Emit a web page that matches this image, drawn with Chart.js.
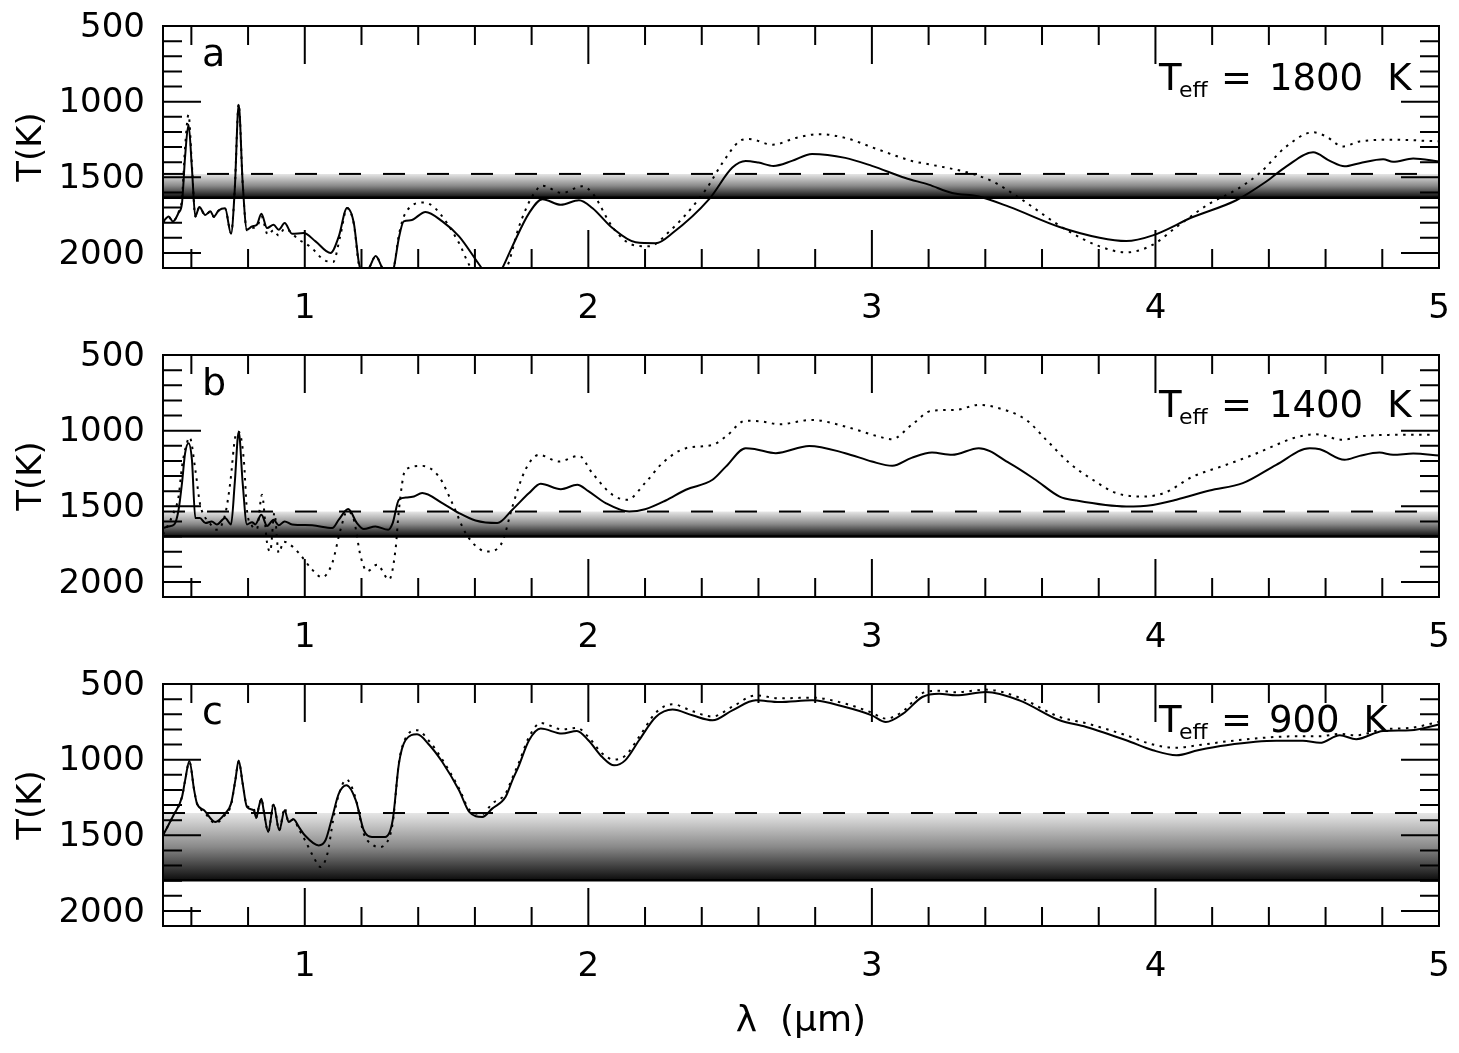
<!DOCTYPE html>
<html><head><meta charset="utf-8">
<script src="https://cdn.jsdelivr.net/npm/chart.js@4.4.0/dist/chart.umd.min.js"></script>
<style>
html,body{margin:0;padding:0;background:#fff;}
#wrap{position:relative;width:1459px;height:1053px;overflow:hidden;background:#fff;}
canvas{position:absolute;left:0;}
</style></head><body>
<div id="wrap">
<canvas id="ca" width="1459" height="329" style="top:0px"></canvas>
<canvas id="cb" width="1459" height="329" style="top:329px"></canvas>
<canvas id="cc" width="1459" height="395" style="top:658px"></canvas>
</div>
<script>
// ---------- tick labels ----------
const X_TICKS = [1, 2, 3, 4, 5];
const Y_TICKS = [500, 1000, 1500, 2000];
const BAND_X = [0.5, 5];

// ---------- panel a (Teff = 1800 K) ----------
const A_SOLID_X = [0.50,0.52,0.535,0.555,0.567,0.578,0.590,0.602,0.614,0.628,0.649,0.667,0.679,0.696,0.719,0.740,0.753,0.767,0.781,0.796,0.814,0.831,0.847,0.867,0.890,0.908,0.929,0.955,0.996,1.038,1.091,1.120,1.149,1.173,1.191,1.205,1.228,1.250,1.272,1.290,1.300,1.314,1.332,1.349,1.373,1.426,1.485,1.544,1.620,1.650,1.680,1.697,1.732,1.791,1.838,1.903,1.967,2.014,2.085,2.167,2.238,2.297,2.426,2.508,2.555,2.600,2.653,2.718,2.789,2.906,3.000,3.118,3.200,3.283,3.377,3.485,3.662,3.803,3.897,3.991,4.132,4.285,4.391,4.462,4.556,4.615,4.667,4.720,4.803,4.838,4.909,5.000];
const A_SOLID_T = [1795,1760,1792,1735,1671,1362,1152,1441,1760,1697,1749,1725,1760,1720,1705,1874,1583,1020,1538,1847,1825,1814,1741,1836,1814,1847,1803,1874,1869,1924,2001,1891,1703,1803,2068,2140,2095,2021,2095,2160,2170,2100,1900,1792,1785,1729,1792,1891,2090,2160,2150,2100,1957,1737,1645,1682,1652,1703,1836,1930,1936,1869,1645,1436,1392,1403,1425,1392,1346,1372,1425,1505,1549,1604,1627,1696,1829,1900,1922,1884,1763,1652,1528,1428,1335,1392,1428,1407,1381,1398,1376,1396];
const A_DOT_X = [0.50,0.52,0.535,0.555,0.567,0.578,0.590,0.602,0.614,0.628,0.649,0.667,0.679,0.696,0.719,0.740,0.753,0.767,0.781,0.796,0.814,0.831,0.847,0.870,0.890,0.908,0.929,0.979,1.020,1.067,1.100,1.125,1.149,1.173,1.191,1.205,1.228,1.250,1.272,1.290,1.300,1.314,1.332,1.355,1.420,1.460,1.544,1.580,1.620,1.670,1.714,1.755,1.802,1.838,1.907,1.978,2.014,2.085,2.155,2.214,2.280,2.414,2.473,2.532,2.567,2.650,2.732,2.814,2.906,3.024,3.141,3.200,3.344,3.426,3.520,3.685,3.803,3.897,3.991,4.074,4.191,4.285,4.368,4.462,4.556,4.600,4.661,4.720,4.838,5.000];
const A_DOT_T = [1800,1765,1790,1730,1640,1300,1086,1420,1760,1700,1750,1728,1762,1722,1708,1870,1580,1015,1540,1850,1835,1830,1760,1880,1850,1885,1840,1913,1960,2046,2060,1890,1703,1810,2080,2140,2095,2021,2095,2160,2170,2100,1880,1737,1667,1705,1935,2080,2170,2180,2090,1829,1627,1556,1604,1560,1604,1829,1946,1957,1869,1583,1405,1263,1247,1285,1240,1215,1240,1318,1392,1414,1472,1528,1637,1847,1957,1997,1946,1829,1674,1583,1472,1296,1203,1228,1296,1263,1252,1263];
const A_BAND = [1478, 1635];

// ---------- panel b (Teff = 1400 K) ----------
const B_SOLID_X = [0.50,0.52,0.54,0.555,0.567,0.578,0.590,0.602,0.614,0.630,0.650,0.672,0.690,0.719,0.740,0.753,0.767,0.781,0.796,0.814,0.825,0.847,0.867,0.890,0.908,0.929,0.955,1.026,1.097,1.120,1.153,1.184,1.208,1.249,1.294,1.310,1.332,1.361,1.385,1.414,1.485,1.544,1.602,1.679,1.732,1.791,1.832,1.903,1.961,2.000,2.061,2.144,2.200,2.273,2.344,2.438,2.485,2.555,2.590,2.661,2.779,2.906,3.000,3.072,3.140,3.212,3.283,3.377,3.485,3.577,3.662,3.720,3.897,3.991,4.074,4.191,4.308,4.426,4.544,4.580,4.667,4.720,4.790,4.838,4.909,5.000];
const B_SOLID_T = [1644,1634,1620,1523,1347,1149,1083,1193,1578,1578,1611,1600,1620,1578,1620,1347,1007,1347,1620,1605,1620,1556,1630,1589,1626,1600,1620,1626,1644,1589,1519,1611,1651,1634,1655,1611,1457,1442,1435,1413,1479,1545,1594,1611,1523,1413,1352,1387,1358,1400,1479,1535,1520,1462,1391,1325,1238,1116,1123,1149,1101,1149,1204,1233,1180,1145,1160,1116,1215,1325,1436,1462,1502,1491,1457,1396,1347,1226,1116,1123,1193,1167,1145,1160,1151,1165];
const B_DOT_X = [0.50,0.537,0.555,0.567,0.584,0.594,0.614,0.630,0.640,0.660,0.690,0.719,0.737,0.755,0.767,0.785,0.796,0.814,0.831,0.849,0.867,0.878,0.893,0.908,0.926,0.940,0.979,1.026,1.061,1.097,1.126,1.149,1.173,1.197,1.220,1.255,1.297,1.320,1.332,1.355,1.414,1.473,1.520,1.567,1.620,1.649,1.685,1.700,1.732,1.778,1.826,1.896,1.967,2.014,2.085,2.137,2.200,2.261,2.344,2.438,2.485,2.555,2.614,2.673,2.789,2.906,3.024,3.070,3.140,3.212,3.295,3.377,3.426,3.544,3.615,3.697,3.779,3.862,3.956,4.030,4.132,4.250,4.344,4.426,4.485,4.567,4.661,4.720,4.838,4.980];
const B_DOT_T = [1688,1545,1436,1238,1083,1044,1259,1479,1545,1600,1655,1556,1347,1040,1007,1193,1523,1630,1651,1424,1743,1799,1545,1809,1734,1743,1809,1919,1970,1875,1655,1535,1589,1832,1930,1886,1985,1787,1523,1259,1233,1304,1479,1677,1787,1799,1770,1720,1504,1259,1160,1204,1167,1281,1424,1457,1347,1215,1116,1094,1039,934,940,958,929,973,1039,1057,962,868,863,830,841,929,1061,1215,1325,1413,1436,1413,1304,1226,1160,1094,1050,1024,1061,1039,1028,1028];
const B_BAND = [1535, 1700];

// ---------- panel c (Teff = 900 K) ----------
const C_SOLID_X = [0.50,0.537,0.567,0.578,0.593,0.610,0.620,0.645,0.684,0.719,0.740,0.755,0.767,0.781,0.796,0.820,0.829,0.838,0.847,0.855,0.871,0.890,0.910,0.929,0.943,0.960,0.979,1.000,1.049,1.073,1.097,1.120,1.147,1.180,1.208,1.237,1.284,1.310,1.332,1.355,1.396,1.440,1.485,1.544,1.580,1.626,1.661,1.708,1.732,1.753,1.791,1.832,1.907,1.960,2.000,2.049,2.091,2.130,2.179,2.238,2.297,2.367,2.438,2.508,2.591,2.673,2.789,2.906,3.000,3.049,3.110,3.178,3.237,3.296,3.402,3.520,3.662,3.756,3.897,3.991,4.074,4.150,4.250,4.426,4.520,4.580,4.650,4.708,4.803,4.900,5.000];
const C_SOLID_T = [1500,1368,1247,1137,1009,1203,1291,1335,1412,1357,1291,1137,1005,1159,1313,1335,1384,1313,1258,1335,1478,1296,1467,1335,1412,1395,1445,1500,1567,1533,1379,1225,1170,1269,1467,1511,1511,1401,1026,872,833,905,1016,1203,1346,1379,1324,1247,1137,1049,872,795,828,810,872,983,1038,1005,872,718,669,707,740,674,608,619,608,652,707,751,696,586,564,575,553,608,740,784,872,938,971,938,905,876,876,889,839,865,810,806,767];
const C_DOT_X = [0.50,0.537,0.567,0.578,0.593,0.610,0.620,0.645,0.684,0.719,0.740,0.755,0.767,0.781,0.796,0.820,0.829,0.838,0.847,0.855,0.871,0.890,0.910,0.929,0.943,0.960,0.979,1.000,1.030,1.055,1.080,1.100,1.120,1.147,1.180,1.208,1.237,1.260,1.284,1.310,1.332,1.355,1.396,1.440,1.485,1.544,1.580,1.626,1.661,1.708,1.732,1.753,1.791,1.832,1.907,1.960,2.000,2.049,2.091,2.130,2.179,2.238,2.297,2.367,2.438,2.508,2.591,2.673,2.789,2.906,3.000,3.049,3.110,3.178,3.237,3.296,3.402,3.520,3.662,3.756,3.897,3.991,4.074,4.150,4.250,4.426,4.520,4.580,4.650,4.708,4.803,4.900,5.000];
const C_DOT_T = [1500,1368,1247,1137,1015,1203,1291,1345,1420,1365,1300,1137,1010,1159,1305,1325,1384,1313,1258,1335,1478,1290,1467,1320,1412,1395,1460,1530,1640,1710,1620,1400,1230,1132,1260,1490,1560,1578,1560,1420,1020,860,806,880,1000,1190,1330,1360,1290,1225,1120,1030,850,758,800,790,850,960,1000,975,850,690,634,680,715,650,575,595,590,630,690,729,680,560,545,555,537,590,718,760,839,900,921,905,880,850,845,845,830,839,800,790,750];
const C_BAND = [1353, 1798];

// ---------- drawing ----------
const FONT = "'DejaVu Sans'";
Chart.defaults.font.family = FONT;
Chart.defaults.color = '#000';

const X_MINOR = [], Y_MINOR = [];
for (let v = 0.6; v < 5; v += 0.2) { const r = Math.round(v * 10) / 10; if (Math.abs(r - Math.round(r)) > 1e-6) X_MINOR.push(r); }
for (let v = 600; v < 2100; v += 100) { if (v % 500 !== 0) Y_MINOR.push(v); }

function zip(xs, ys) { return xs.map((x, i) => ({ x: x, y: ys[i] })); }

function makePanel(id, P) {
  const MAJ = 38, MIN = 19;
  const deco = {
    id: 'deco' + id,
    afterDatasetsDraw(chart) {
      const { ctx, chartArea: a, scales: { x, y } } = chart;
      ctx.save();
      ctx.strokeStyle = '#000';
      ctx.lineWidth = 2;
      ctx.beginPath();
      const vt = (v, L) => { const px = x.getPixelForValue(v); ctx.moveTo(px, a.bottom); ctx.lineTo(px, a.bottom - L); ctx.moveTo(px, a.top); ctx.lineTo(px, a.top + L); };
      const ht = (v, L) => { const py = y.getPixelForValue(v); ctx.moveTo(a.left, py); ctx.lineTo(a.left + L, py); ctx.moveTo(a.right, py); ctx.lineTo(a.right - L, py); };
      X_TICKS.forEach(v => vt(v, MAJ));
      X_MINOR.forEach(v => vt(v, MIN));
      Y_TICKS.forEach(v => ht(v, MAJ));
      Y_MINOR.forEach(v => ht(v, MIN));
      ctx.stroke();
      ctx.strokeRect(a.left, a.top, a.right - a.left, a.bottom - a.top);
      ctx.restore();
    },
    afterDraw(chart) {
      const { ctx, chartArea: a } = chart;
      ctx.save();
      ctx.fillStyle = '#000';
      ctx.textAlign = 'left';
      ctx.textBaseline = 'alphabetic';
      ctx.font = '38px ' + FONT;
      ctx.fillText(P.letter, a.left + 39, a.top + 40);
      const bx = a.right - 280, by = a.top + P.teffDy;
      ctx.font = '37px ' + FONT;
      ctx.fillText('T', bx, by);
      ctx.font = '22px ' + FONT;
      ctx.fillText('eff', bx + 20, by + 7);
      ctx.font = '37px ' + FONT;
      ctx.fillText('=', bx + 62, by);
      ctx.fillText(P.teff, bx + 110, by);
      const w = ctx.measureText(P.teff).width;
      ctx.fillText('K', bx + 110 + w + 24, by);
      ctx.restore();
    }
  };
  const band = P.band;
  return new Chart(document.getElementById(id), {
    type: 'line',
    data: {
      datasets: [
        { data: zip(P.sx, P.st), borderColor: '#000', borderWidth: 2, pointRadius: 0, cubicInterpolationMode: 'monotone', fill: false },
        { data: zip(P.dx, P.dt), borderColor: '#000', borderWidth: 2, borderDash: [2.5, 5.5], pointRadius: 0, cubicInterpolationMode: 'monotone', fill: false },
        { data: zip(BAND_X, [band[0], band[0]]), borderColor: '#000', borderWidth: 2, borderDash: [22, 22], pointRadius: 0, fill: false },
        { data: zip(BAND_X, [band[1], band[1]]), borderColor: '#000', borderWidth: 2.5, pointRadius: 0, fill: '-1',
          backgroundColor: (c) => {
            const ch = c.chart; const ys = ch.scales && ch.scales.y;
            if (!ys || !ch.chartArea) return 'rgba(128,128,128,0.6)';
            const y0 = ys.getPixelForValue(band[0]), y1 = ys.getPixelForValue(band[1]);
            const g = ch.ctx.createLinearGradient(0, y0, 0, y1);
            g.addColorStop(0, '#e6e6e6');
            g.addColorStop(0.5, '#8a8a8a');
            g.addColorStop(1, '#0c0c0c');
            return g;
          } }
      ]
    },
    options: {
      responsive: false,
      animation: false,
      events: [],
      layout: { padding: { top: 26, right: 20, left: 0, bottom: 0 } },
      plugins: { legend: { display: false }, tooltip: { enabled: false } },
      scales: {
        x: {
          type: 'linear', min: 0.5, max: 5,
          grid: { display: false, drawTicks: false }, border: { display: false },
          afterBuildTicks: s => { s.ticks = X_TICKS.map(v => ({ value: v })); },
          ticks: { font: { size: 34 }, color: '#000', padding: 21, maxRotation: 0, autoSkip: false, callback: v => String(v) },
          afterFit: s => { s.height = P.xh; s.paddingLeft = 0; s.paddingRight = 0; },
          title: P.xTitle ? { display: true, text: 'λ  (μm)', font: { size: 36 }, color: '#000', padding: { top: 0, bottom: 10 } } : { display: false }
        },
        y: {
          type: 'linear', reverse: true, min: 500, max: 2100,
          grid: { display: false, drawTicks: false }, border: { display: false },
          afterBuildTicks: s => { s.ticks = Y_TICKS.map(v => ({ value: v })); },
          ticks: { font: { size: 34 }, color: '#000', padding: 18, labelOffset: 2, autoSkip: false, callback: v => String(v) },
          afterFit: s => { s.width = 163; s.paddingTop = 0; s.paddingBottom = 0; },
          title: { display: true, text: 'T(K)', font: { size: 34 }, color: '#000', padding: { top: 12, bottom: 0 } }
        }
      }
    },
    plugins: [deco]
  });
}

makePanel('ca', { sx: A_SOLID_X, st: A_SOLID_T, dx: A_DOT_X, dt: A_DOT_T, band: A_BAND, letter: 'a', teff: '1800', teffDy: 64, xh: 61, xTitle: false });
makePanel('cb', { sx: B_SOLID_X, st: B_SOLID_T, dx: B_DOT_X, dt: B_DOT_T, band: B_BAND, letter: 'b', teff: '1400', teffDy: 62, xh: 61, xTitle: false });
makePanel('cc', { sx: C_SOLID_X, st: C_SOLID_T, dx: C_DOT_X, dt: C_DOT_T, band: C_BAND, letter: 'c', teff: '900', teffDy: 48, xh: 127, xTitle: true });
</script>
</body></html>
